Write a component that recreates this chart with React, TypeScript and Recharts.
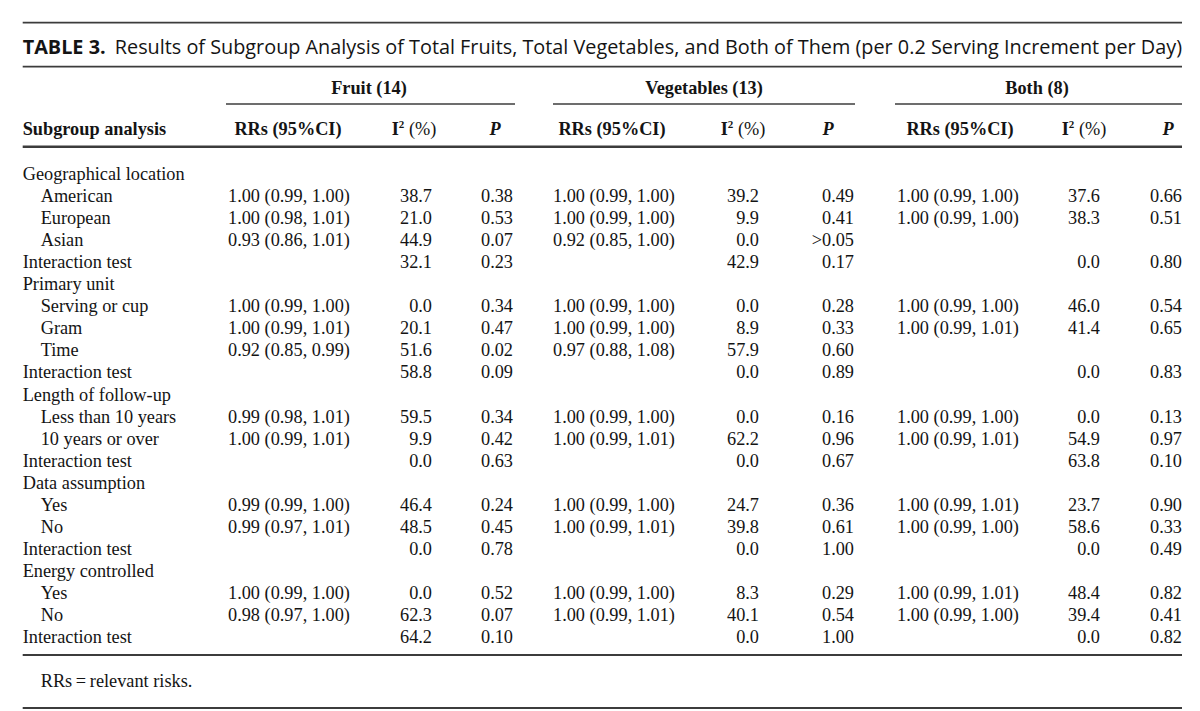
import React from 'react';
import { ScatterChart, Scatter, XAxis, YAxis, ReferenceLine } from 'recharts';

// ---------- DATA ----------
const TITLE_LABEL = 'TABLE 3.';
const TITLE_TEXT =
  'Results of Subgroup Analysis of Total Fruits, Total Vegetables, and Both of Them (per 0.2 Serving Increment per Day)';
const GROUPS = ['Fruit (14)', 'Vegetables (13)', 'Both (8)'];
const FIRST_HEADER = 'Subgroup analysis';
const FOOTNOTE = 'RRs\u2009=\u2009relevant risks.';

const ROW_LABELS = [
  'Geographical location', 'American', 'European', 'Asian', 'Interaction test',
  'Primary unit', 'Serving or cup', 'Gram', 'Time', 'Interaction test',
  'Length of follow-up', 'Less than 10 years', '10 years or over', 'Interaction test',
  'Data assumption', 'Yes', 'No', 'Interaction test',
  'Energy controlled', 'Yes', 'No', 'Interaction test',
];
const ROW_INDENT = [0, 1, 1, 1, 0, 0, 1, 1, 1, 0, 0, 1, 1, 0, 0, 1, 1, 0, 0, 1, 1, 0];

const fruitRR = ['', '1.00 (0.99, 1.00)', '1.00 (0.98, 1.01)', '0.93 (0.86, 1.01)', '', '', '1.00 (0.99, 1.00)', '1.00 (0.99, 1.01)', '0.92 (0.85, 0.99)', '', '', '0.99 (0.98, 1.01)', '1.00 (0.99, 1.01)', '', '', '0.99 (0.99, 1.00)', '0.99 (0.97, 1.01)', '', '', '1.00 (0.99, 1.00)', '0.98 (0.97, 1.00)', ''];
const fruitI2 = ['', '38.7', '21.0', '44.9', '32.1', '', '0.0', '20.1', '51.6', '58.8', '', '59.5', '9.9', '0.0', '', '46.4', '48.5', '0.0', '', '0.0', '62.3', '64.2'];
const fruitP = ['', '0.38', '0.53', '0.07', '0.23', '', '0.34', '0.47', '0.02', '0.09', '', '0.34', '0.42', '0.63', '', '0.24', '0.45', '0.78', '', '0.52', '0.07', '0.10'];

const vegRR = ['', '1.00 (0.99, 1.00)', '1.00 (0.99, 1.00)', '0.92 (0.85, 1.00)', '', '', '1.00 (0.99, 1.00)', '1.00 (0.99, 1.00)', '0.97 (0.88, 1.08)', '', '', '1.00 (0.99, 1.00)', '1.00 (0.99, 1.01)', '', '', '1.00 (0.99, 1.00)', '1.00 (0.99, 1.01)', '', '', '1.00 (0.99, 1.00)', '1.00 (0.99, 1.01)', ''];
const vegI2 = ['', '39.2', '9.9', '0.0', '42.9', '', '0.0', '8.9', '57.9', '0.0', '', '0.0', '62.2', '0.0', '', '24.7', '39.8', '0.0', '', '8.3', '40.1', '0.0'];
const vegP = ['', '0.49', '0.41', '>0.05', '0.17', '', '0.28', '0.33', '0.60', '0.89', '', '0.16', '0.96', '0.67', '', '0.36', '0.61', '1.00', '', '0.29', '0.54', '1.00'];

const bothRR = ['', '1.00 (0.99, 1.00)', '1.00 (0.99, 1.00)', '', '', '', '1.00 (0.99, 1.00)', '1.00 (0.99, 1.01)', '', '', '', '1.00 (0.99, 1.00)', '1.00 (0.99, 1.01)', '', '', '1.00 (0.99, 1.01)', '1.00 (0.99, 1.00)', '', '', '1.00 (0.99, 1.01)', '1.00 (0.99, 1.00)', ''];
const bothI2 = ['', '37.6', '38.3', '', '0.0', '', '46.0', '41.4', '', '0.0', '', '0.0', '54.9', '63.8', '', '23.7', '58.6', '0.0', '', '48.4', '39.4', '0.0'];
const bothP = ['', '0.66', '0.51', '', '0.80', '', '0.54', '0.65', '', '0.83', '', '0.13', '0.97', '0.10', '', '0.90', '0.33', '0.49', '', '0.82', '0.41', '0.82'];

// ---------- LAYOUT ----------
const W = 1200;
const H = 711;
const ROW0_PX = 174;
const ROW_H = 22.05;
const rowAt = (px: number) => (px - ROW0_PX) / ROW_H;
const Y_DOMAIN: [number, number] = [rowAt(0), rowAt(H)];

const LEFT = 22.7;
const RIGHT = 1182;
const INDENT = 18;
const FS = 18.3;
const SERIF = '"Liberation Serif", "Times New Roman", serif';
const SANS = '"Open Sans", "Noto Sans", sans-serif';
const INK = '#141414';
const RULE = '#3c3c3c';

type Anchor = 'start' | 'middle' | 'end';
type Kind = 'plain' | 'i2' | 'p' | 'title';
interface Cell {
  x: number;
  y: number;
  text: string;
  anchor: Anchor;
  bold?: boolean;
  kind?: Kind;
}

const BODY_COLUMNS: { values: string[]; x: number; anchor: Anchor }[] = [
  { values: fruitRR, x: 228, anchor: 'start' },
  { values: fruitI2, x: 432, anchor: 'end' },
  { values: fruitP, x: 513, anchor: 'end' },
  { values: vegRR, x: 553, anchor: 'start' },
  { values: vegI2, x: 759, anchor: 'end' },
  { values: vegP, x: 854, anchor: 'end' },
  { values: bothRR, x: 897, anchor: 'start' },
  { values: bothI2, x: 1100, anchor: 'end' },
  { values: bothP, x: 1182, anchor: 'end' },
];

const GROUP_LAYOUT = [
  { center: 369, from: 226, to: 515 },
  { center: 704, from: 553, to: 855 },
  { center: 1037, from: 895, to: 1182 },
];
const SUBHEAD_CENTERS = [
  [288, 414, 495],
  [612, 743, 828],
  [960, 1084, 1168],
];

const Y_TITLE = rowAt(46.7);
const Y_GROUP = rowAt(88);
const Y_HEAD = rowAt(129);
const Y_FOOT = rowAt(681);
const RULES = [
  { y: rowAt(22.7), from: LEFT, to: RIGHT, w: 1.8 },
  { y: rowAt(66.7), from: LEFT, to: RIGHT, w: 1.8 },
  { y: rowAt(146.7), from: LEFT, to: RIGHT, w: 2.6 },
  { y: rowAt(655), from: LEFT, to: RIGHT, w: 1.8 },
  { y: rowAt(708), from: LEFT, to: RIGHT, w: 1.8 },
  ...GROUP_LAYOUT.map((g) => ({ y: rowAt(104), from: g.from, to: g.to, w: 1.4 })),
];

// ---------- CELLS ----------
const labelCells: Cell[] = ROW_LABELS.map((t, i) => ({
  x: LEFT + ROW_INDENT[i] * INDENT,
  y: i,
  text: t,
  anchor: 'start',
}));

const bodyCells: Cell[][] = BODY_COLUMNS.map((col) =>
  col.values
    .map((t, i) => ({ x: col.x, y: i, text: t, anchor: col.anchor }))
    .filter((c) => c.text !== '')
);

const headerCells: Cell[] = [
  { x: LEFT, y: Y_HEAD, text: FIRST_HEADER, anchor: 'start', bold: true },
  ...GROUPS.map((g, gi) => ({ x: GROUP_LAYOUT[gi].center, y: Y_GROUP, text: g, anchor: 'middle' as Anchor, bold: true })),
  ...SUBHEAD_CENTERS.flatMap((cs) => [
    { x: cs[0], y: Y_HEAD, text: 'RRs (95%CI)', anchor: 'middle' as Anchor, bold: true },
    { x: cs[1], y: Y_HEAD, text: 'I2 (%)', anchor: 'middle' as Anchor, bold: true, kind: 'i2' as Kind },
    { x: cs[2], y: Y_HEAD, text: 'P', anchor: 'middle' as Anchor, bold: true, kind: 'p' as Kind },
  ]),
  { x: LEFT + INDENT, y: Y_FOOT, text: FOOTNOTE, anchor: 'start' },
];

const titleCells: Cell[] = [{ x: LEFT, y: Y_TITLE, text: TITLE_TEXT, anchor: 'start', kind: 'title' }];

const renderCell = (props: any) => {
  const d: Cell = props.payload;
  const cx = props.cx;
  const cy = props.cy;
  if (d.kind === 'title') {
    return (
      <text
        x={cx}
        y={cy}
        dy="0.36em"
        fontFamily={SANS}
        fontSize={19.5}
        fill={INK}
        textLength={RIGHT - LEFT}
        lengthAdjust="spacingAndGlyphs"
      >
        <tspan fontWeight={700}>{TITLE_LABEL}</tspan>
        <tspan dx={9}>{d.text}</tspan>
      </text>
    );
  }
  const common = {
    x: cx,
    y: cy,
    dy: '0.33em',
    textAnchor: d.anchor,
    fontFamily: SERIF,
    fontSize: FS,
    fill: INK,
    fontWeight: d.bold ? 700 : 400,
  };
  if (d.kind === 'i2') {
    return (
      <text {...common}>
        <tspan fontWeight={700}>I</tspan>
        <tspan fontSize={11} dy={-7}>2</tspan>
        <tspan dy={7} fontWeight={400}>{' (%)'}</tspan>
      </text>
    );
  }
  if (d.kind === 'p') {
    return (
      <text {...common} fontStyle="italic">
        {d.text}
      </text>
    );
  }
  return <text {...common}>{d.text}</text>;
};

export default function App() {
  return (
    <div style={{ position: 'absolute', left: 0, top: 0, background: '#fff' }}>
      <ScatterChart width={W} height={H} margin={{ top: 0, right: 0, bottom: 0, left: 0 }}>
        <XAxis type="number" dataKey="x" domain={[0, W]} scale="linear" allowDataOverflow hide />
        <YAxis type="number" dataKey="y" domain={Y_DOMAIN} scale="linear" allowDataOverflow reversed hide />
        {RULES.map((r, i) => (
          <ReferenceLine
            key={'rule' + i}
            segment={[{ x: r.from, y: r.y }, { x: r.to, y: r.y }]}
            stroke={RULE}
            strokeWidth={r.w}
            ifOverflow="visible"
          />
        ))}
        <Scatter name="title" data={titleCells} shape={renderCell} isAnimationActive={false} />
        <Scatter name="headers" data={headerCells} shape={renderCell} isAnimationActive={false} />
        <Scatter name="labels" data={labelCells} shape={renderCell} isAnimationActive={false} />
        {bodyCells.map((cells, i) => (
          <Scatter key={'col' + i} name={'col' + i} data={cells} shape={renderCell} isAnimationActive={false} />
        ))}
      </ScatterChart>
    </div>
  );
}
